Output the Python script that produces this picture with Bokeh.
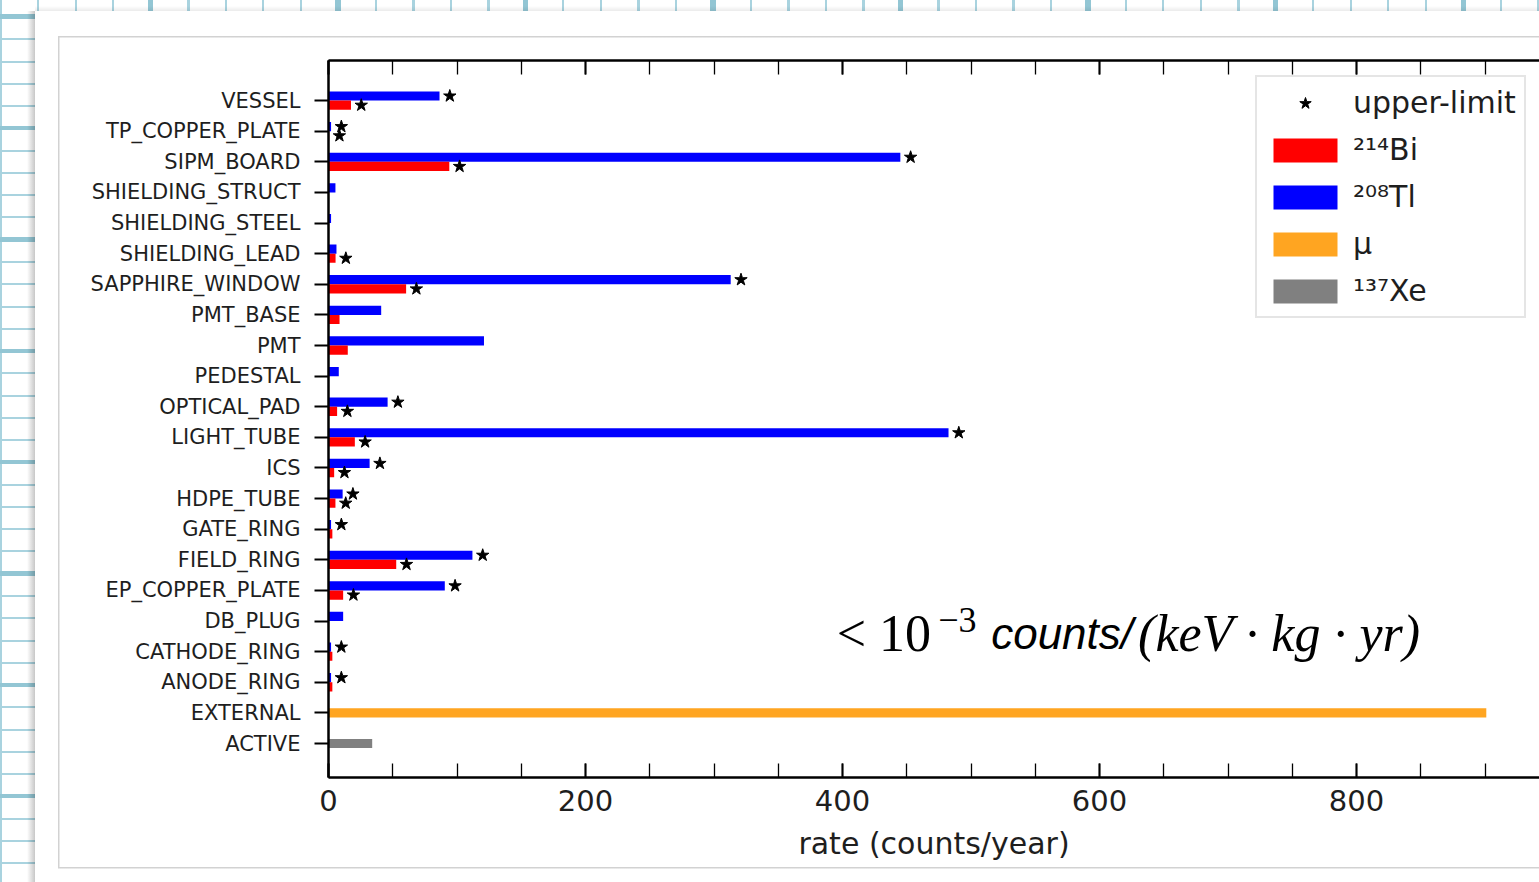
from bokeh.plotting import figure
from bokeh.models import (LinearAxis, SingleIntervalTicker, FixedTicker, Legend,
                          LegendItem, Label, ColumnDataSource)
from bokeh.embed import file_html
from bokeh.resources import INLINE

categories = ["VESSEL", "TP_COPPER_PLATE", "SIPM_BOARD", "SHIELDING_STRUCT",
              "SHIELDING_STEEL", "SHIELDING_LEAD", "SAPPHIRE_WINDOW", "PMT_BASE",
              "PMT", "PEDESTAL", "OPTICAL_PAD", "LIGHT_TUBE", "ICS", "HDPE_TUBE",
              "GATE_RING", "FIELD_RING", "EP_COPPER_PLATE", "DB_PLUG",
              "CATHODE_RING", "ANODE_RING", "EXTERNAL", "ACTIVE"]

# 208Tl (blue) and 214Bi (red) rates, counts/year, for the first 20 categories
tl208 = [86.4, 2.0, 445.0, 5.4, 2.0, 6.2, 313.0, 41.0, 121.0, 8.0, 46.0, 482.5,
         32.0, 11.0, 2.0, 112.0, 90.5, 11.4, 2.0, 2.0]
bi214 = [17.5, 0.5, 94.0, 0.0, 0.0, 5.5, 60.4, 8.6, 15.0, 0.0, 6.7, 20.5,
         4.4, 5.4, 3.0, 52.7, 11.4, 0.0, 3.0, 3.0]
tl208_upper = [1, 1, 1, 0, 0, 0, 1, 0, 0, 0, 1, 1, 1, 1, 1, 1, 1, 0, 1, 1]
bi214_upper = [1, 1, 1, 0, 0, 1, 1, 0, 0, 0, 1, 1, 1, 1, 0, 1, 1, 0, 0, 0]
muon_external = [901.0]
xe137_active = [34.0]

x_ticks_step = 200
annotation = ["< 10", "−3", "counts/", "(keV · kg · yr)"]

n = len(categories)
ypos = [n - 1 - i for i in range(n)]
nb = len(tl208)

FONT = "DejaVu Sans"
TXT = "#1e1e1e"

p = figure(width=1539, height=882, output_backend="svg", toolbar_location=None,
           x_range=(0, 942.4), y_range=(-1.11, 22.31),
           min_border_left=328, min_border_right=0, min_border_top=60,
           min_border_bottom=105)
p.grid.visible = False
p.outline_line_color = None
p.background_fill_color = "white"
p.border_fill_color = None

# ---- page decoration behind the canvas: grid paper, card, shadow, image border
G = "#a9d3df"
GT = "#93c6d4"
BD = "#d2d2d2"
p.styles = {
    "background-color": "white",
    "background-image": ", ".join([
        f"linear-gradient({BD},{BD})",
        f"linear-gradient({BD},{BD})",
        f"linear-gradient({BD},{BD})",
        "linear-gradient(to right, rgba(0,0,0,0), rgba(0,0,0,0.22))",
        "linear-gradient(to bottom, rgba(0,0,0,0), rgba(0,0,0,0.08))",
        "linear-gradient(#ffffff,#ffffff)",
        f"repeating-linear-gradient(to right, rgba(0,0,0,0) 0px, rgba(0,0,0,0) 148px, {GT} 148px, {GT} 153px, rgba(0,0,0,0) 153px, rgba(0,0,0,0) 187.5px)",
        f"repeating-linear-gradient(to bottom, rgba(0,0,0,0) 0px, rgba(0,0,0,0) 14.5px, {GT} 14.5px, {GT} 19px, rgba(0,0,0,0) 19px, rgba(0,0,0,0) 111.35px)",
        f"repeating-linear-gradient(to right, {G} 0px, {G} 2px, rgba(0,0,0,0) 2px, rgba(0,0,0,0) 37.5px)",
        f"repeating-linear-gradient(to bottom, rgba(0,0,0,0) 0px, rgba(0,0,0,0) 16px, {G} 16px, {G} 18px, rgba(0,0,0,0) 18px, rgba(0,0,0,0) 22.27px)",
    ]),
    "background-position": "58px 36px, 58px 36px, 58px 867px, 27px 11px, 35px 6px, 35px 11px, 0px 0px, 0px 0px, 0px 0px, 0px 0px",
    "background-size": "1.5px 832px, 1500px 1.5px, 1500px 1.5px, 8px 900px, 1520px 5px, 1520px 900px, auto, auto, auto, auto",
    "background-repeat": "no-repeat, no-repeat, no-repeat, no-repeat, no-repeat, no-repeat, repeat, repeat, repeat, repeat",
}

BAR_H = 0.3
OFF = 0.15
STAR_OFF = 8.0

src_tl = ColumnDataSource(dict(y=[ypos[i] + OFF for i in range(nb)], v=tl208))
src_bi = ColumnDataSource(dict(y=[ypos[i] - OFF for i in range(nb)], v=bi214))
r_tl = p.hbar(y="y", left=0, right="v", height=BAR_H, source=src_tl,
              fill_color="#0000ff", line_color=None)
r_bi = p.hbar(y="y", left=0, right="v", height=BAR_H, source=src_bi,
              fill_color="#ff0000", line_color=None)
r_mu = p.hbar(y=[ypos[20]], left=0, right=muon_external, height=BAR_H,
              fill_color="#ffa521", line_color=None)
r_xe = p.hbar(y=[ypos[21]], left=0, right=xe137_active, height=BAR_H,
              fill_color="#808080", line_color=None)

sx, sy = [], []
for i in range(nb):
    if tl208_upper[i]:
        sx.append(tl208[i] + STAR_OFF)
        sy.append(ypos[i] + OFF)
    if bi214_upper[i]:
        sx.append(bi214[i] + STAR_OFF)
        sy.append(ypos[i] - OFF)
r_star = p.scatter(x=sx, y=sy, marker="star", size=13, fill_color="black",
                   line_color="black")

# x axes
xa = p.xaxis[0]
xa.ticker = SingleIntervalTicker(interval=x_ticks_step, num_minor_ticks=4)
xa.axis_label = "rate (counts/year)"
xa.axis_label_text_font = FONT
xa.axis_label_text_font_size = "30px"
xa.axis_label_text_font_style = "normal"
xa.axis_label_text_color = TXT
xa.axis_label_standoff = 12
xa.major_label_text_font = FONT
xa.major_label_text_font_size = "29px"
xa.major_label_text_color = TXT
xa.major_label_standoff = 12
xa.major_tick_in = 14
xa.major_tick_out = 0
xa.minor_tick_in = 14
xa.minor_tick_out = 0
xa.axis_line_width = 2.5
xa.major_tick_line_width = 2
xa.minor_tick_line_width = 1.3

top = LinearAxis(ticker=SingleIntervalTicker(interval=x_ticks_step, num_minor_ticks=4),
                 major_label_text_color=None, major_label_text_font_size="10px",
                 major_tick_in=14, major_tick_out=0,
                 minor_tick_in=14, minor_tick_out=0, axis_line_width=2.5,
                 major_tick_line_width=2, minor_tick_line_width=1.3,
                 major_label_standoff=0)
p.add_layout(top, "above")

ya = p.yaxis[0]
ya.ticker = FixedTicker(ticks=ypos)
ya.major_label_overrides = {ypos[i]: categories[i] for i in range(n)}
ya.major_label_text_font = FONT
ya.major_label_text_font_size = "21px"
ya.major_label_text_color = TXT
ya.major_label_standoff = 14
ya.major_tick_out = 14
ya.major_tick_in = 0
ya.minor_tick_out = 0
ya.minor_tick_in = 0
ya.axis_line_width = 2.5
ya.major_tick_line_width = 2

legend = Legend(items=[
    LegendItem(label="upper-limit", renderers=[r_star]),
    LegendItem(label="²¹⁴Bi", renderers=[r_bi]),
    LegendItem(label="²⁰⁸Tl", renderers=[r_tl]),
    LegendItem(label="μ", renderers=[r_mu]),
    LegendItem(label="¹³⁷Xe", renderers=[r_xe]),
], location=(927, 459))
legend.label_text_font = FONT
legend.label_text_font_size = "30px"
legend.label_text_color = TXT
legend.glyph_width = 80
legend.glyph_height = 30
legend.label_standoff = 8
legend.spacing = 12
legend.padding = 8
legend.margin = 0
legend.border_line_color = "#cccccc"
legend.border_line_width = 2
legend.background_fill_color = "white"
legend.background_fill_alpha = 1
p.add_layout(legend, "center")

# annotation  "< 10^-3 counts/(keV . kg . yr)"
YB = 3.6
p.add_layout(Label(x=395.5, y=YB, text=annotation[0], text_font="Liberation Serif",
                   text_font_size="52px", text_baseline="alphabetic", text_color="black"))
p.add_layout(Label(x=474.5, y=YB + 0.42, text=annotation[1], text_font="Liberation Serif",
                   text_font_size="36px", text_baseline="alphabetic", text_color="black"))
p.add_layout(Label(x=515.7, y=YB, text=annotation[2], text_font="Liberation Sans",
                   text_font_style="italic", text_font_size="44px",
                   text_baseline="alphabetic", text_color="black"))
p.add_layout(Label(x=630, y=YB, text=annotation[3], text_font="Liberation Serif",
                   text_font_style="italic", text_font_size="52px",
                   text_baseline="alphabetic", text_color="black"))

open("out.html", "w").write(file_html(p, INLINE))
